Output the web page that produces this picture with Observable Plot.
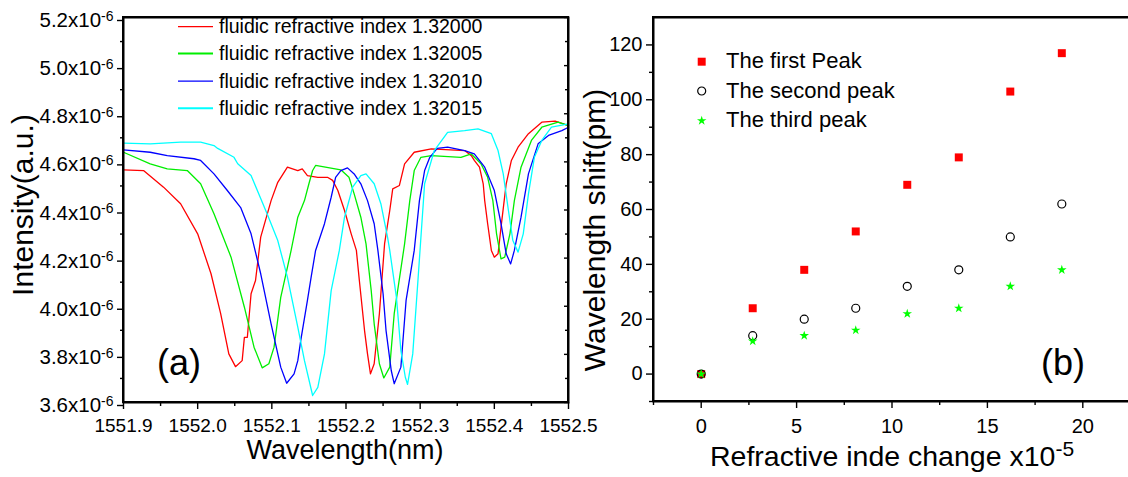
<!DOCTYPE html>
<html><head><meta charset="utf-8">
<script src="https://cdn.jsdelivr.net/npm/d3@7"></script>
<script src="https://cdn.jsdelivr.net/npm/@observablehq/plot@0.6"></script>
<style>
html,body{margin:0;padding:0;background:#fff;}
#wrap{position:relative;width:1128px;height:477px;overflow:hidden;background:#fff;}
#wrap > svg{position:absolute;top:0;}
</style></head><body><div id="wrap"></div>
<script>
// ---------- Panel (a): spectra (intensity in units of 1e-6 a.u.) ----------
const seriesNames = ["fluidic refractive index 1.32000","fluidic refractive index 1.32005","fluidic refractive index 1.32010","fluidic refractive index 1.32015"];
const seriesColors = ["#ff0000","#00ee00","#0000ff","#00ffff"];

const redWl = [1551.900,1551.927,1551.954,1551.977,1552.000,1552.018,1552.031,1552.042,1552.051,1552.060,1552.063,1552.067,1552.072,1552.078,1552.085,1552.099,1552.108,1552.121,1552.135,1552.141,1552.148,1552.162,1552.175,1552.182,1552.189,1552.198,1552.207,1552.214,1552.218,1552.225,1552.229,1552.233,1552.238,1552.245,1552.252,1552.259,1552.263,1552.272,1552.279,1552.292,1552.315,1552.360,1552.369,1552.373,1552.380,1552.385,1552.387,1552.391,1552.396,1552.400,1552.405,1552.409,1552.416,1552.423,1552.432,1552.446,1552.464,1552.482,1552.500];
const redI = [4.567,4.564,4.495,4.426,4.301,4.135,3.969,3.802,3.749,3.774,3.871,3.871,4.052,4.107,4.287,4.439,4.515,4.578,4.564,4.571,4.543,4.536,4.536,4.523,4.481,4.398,4.301,4.232,4.107,3.899,3.802,3.719,3.761,3.969,4.259,4.398,4.488,4.502,4.592,4.640,4.654,4.647,4.626,4.606,4.578,4.509,4.439,4.343,4.232,4.204,4.218,4.328,4.509,4.606,4.661,4.717,4.765,4.769,4.751];

const greenWl = [1551.900,1551.936,1551.959,1551.986,1552.004,1552.022,1552.045,1552.063,1552.076,1552.087,1552.096,1552.103,1552.112,1552.121,1552.126,1552.135,1552.144,1552.150,1552.155,1552.159,1552.193,1552.204,1552.211,1552.220,1552.227,1552.234,1552.238,1552.245,1552.251,1552.259,1552.265,1552.279,1552.286,1552.292,1552.301,1552.315,1552.355,1552.369,1552.382,1552.391,1552.398,1552.403,1552.409,1552.414,1552.421,1552.427,1552.436,1552.450,1552.464,1552.486,1552.500];
const greenI = [4.640,4.592,4.571,4.564,4.509,4.384,4.204,3.996,3.830,3.744,3.761,3.830,4.037,4.162,4.232,4.370,4.439,4.509,4.564,4.585,4.567,4.536,4.467,4.370,4.259,4.065,3.927,3.761,3.702,3.747,3.969,4.259,4.439,4.564,4.619,4.626,4.619,4.633,4.592,4.536,4.439,4.301,4.197,4.204,4.301,4.439,4.578,4.689,4.744,4.765,4.751];

const blueWl = [1551.900,1551.936,1551.959,1551.995,1552.004,1552.022,1552.040,1552.058,1552.072,1552.085,1552.099,1552.112,1552.120,1552.130,1552.135,1552.139,1552.148,1552.153,1552.159,1552.171,1552.180,1552.186,1552.193,1552.202,1552.211,1552.220,1552.229,1552.238,1552.243,1552.250,1552.254,1552.261,1552.265,1552.274,1552.281,1552.292,1552.299,1552.306,1552.313,1552.323,1552.337,1552.360,1552.373,1552.387,1552.400,1552.409,1552.416,1552.422,1552.427,1552.436,1552.446,1552.459,1552.473,1552.491,1552.500];
const blueI = [4.650,4.640,4.626,4.613,4.606,4.550,4.481,4.410,4.301,4.135,3.927,3.747,3.680,3.719,3.774,3.858,4.024,4.121,4.232,4.343,4.453,4.536,4.564,4.575,4.550,4.509,4.439,4.343,4.232,4.052,3.899,3.733,3.678,3.747,4.024,4.232,4.439,4.564,4.619,4.656,4.661,4.647,4.633,4.578,4.481,4.343,4.218,4.176,4.232,4.370,4.550,4.675,4.710,4.730,4.744];

const cyanWl = [1551.900,1551.936,1551.977,1552.004,1552.022,1552.027,1552.049,1552.054,1552.072,1552.085,1552.094,1552.108,1552.121,1552.135,1552.144,1552.155,1552.162,1552.171,1552.180,1552.191,1552.198,1552.209,1552.220,1552.227,1552.238,1552.247,1552.256,1552.259,1552.268,1552.274,1552.280,1552.283,1552.290,1552.297,1552.306,1552.319,1552.337,1552.360,1552.378,1552.396,1552.405,1552.412,1552.419,1552.425,1552.432,1552.439,1552.446,1552.454,1552.464,1552.477,1552.500];
const cyanI = [4.678,4.675,4.682,4.682,4.668,4.656,4.619,4.592,4.543,4.448,4.381,4.273,4.121,3.913,3.774,3.629,3.663,3.802,4.065,4.232,4.370,4.495,4.543,4.550,4.509,4.426,4.287,4.232,4.037,3.816,3.705,3.675,3.802,4.107,4.509,4.647,4.723,4.730,4.737,4.717,4.647,4.550,4.398,4.273,4.225,4.301,4.467,4.619,4.689,4.744,4.758];

const leftXDomain = [1551.9, 1552.5];
const leftYDomain = [3.6, 5.2];
const leftXTicks = [1551.9,1552.0,1552.1,1552.2,1552.3,1552.4,1552.5];
const leftXMinor = [1551.95,1552.05,1552.15,1552.25,1552.35,1552.45];
const leftYTicks = [3.6,3.8,4.0,4.2,4.4,4.6,4.8,5.0,5.2];
const leftYMinor = [3.7,3.9,4.1,4.3,4.5,4.7,4.9,5.1];

// ---------- Panel (b): wavelength shift ----------
const indexChange = [0,2.7,5.4,8.1,10.8,13.5,16.2,18.9];
const firstPeak  = [0,24,38,52,69,79,103,117];
const secondPeak = [0,14,20,24,32,38,50,62];
const thirdPeak  = [0,12,14,16,22,24,32,38];
const peakNames = ["The first Peak","The second peak","The third peak"];

const rightXDomain = [-2.5, 22.5];
const rightYDomain = [-10, 130];
const rightXTicks = [0,5,10,15,20];
const rightXMinor = [-2.5,2.5,7.5,12.5,17.5,22.5];
const rightYTicks = [0,20,40,60,80,100,120];
const rightYMinor = [-10,10,30,50,70,90,110];

const FONT = '"Liberation Sans", Arial, Helvetica, sans-serif';
const wrap = document.getElementById("wrap");

function toRows(name, xs, ys) { return xs.map((x, i) => ({name, wl: x, I: ys[i]})); }
const spectra = [
  ...toRows(seriesNames[0], redWl, redI),
  ...toRows(seriesNames[1], greenWl, greenI),
  ...toRows(seriesNames[2], blueWl, blueI),
  ...toRows(seriesNames[3], cyanWl, cyanI)
];

const blank = () => "";
const frameMark = () => Plot.frame({stroke: "#000000", strokeWidth: 2});

const left = Plot.plot({
  width: 580, height: 477,
  marginLeft: 123, marginRight: 12, marginTop: 17, marginBottom: 75,
  style: {fontFamily: FONT, color: "black", background: "transparent", overflow: "visible"},
  x: {domain: leftXDomain},
  y: {domain: leftYDomain},
  color: {domain: seriesNames, range: seriesColors},
  marks: [
    Plot.line(spectra, {x: "wl", y: "I", z: "name", stroke: "name", strokeWidth: 1.3}),
    Plot.axisX({ticks: leftXTicks, tickSize: 7, tickPadding: 9, tickFormat: d => d.toFixed(1), fontSize: 19, label: null, strokeWidth: 1.4}),
    Plot.axisX({ticks: leftXMinor, tickSize: 4, tickFormat: blank, label: null, strokeWidth: 1.4}),
    Plot.axisY({ticks: leftYTicks, tickSize: 6, tickPadding: 4, tickFormat: d => d.toFixed(1) + "x10", fontSize: 20.5, dy: 3, label: null, strokeWidth: 1.4}),
    Plot.axisY({ticks: leftYMinor, tickSize: 3, tickFormat: blank, label: null, strokeWidth: 1.4}),
    Plot.axisY({anchor: "right", ticks: leftYTicks, tickSize: 5, dx: -5, tickFormat: blank, label: null, strokeWidth: 1.4}),
    Plot.axisY({anchor: "right", ticks: leftYMinor, tickSize: 4, dx: -4, tickFormat: blank, label: null, strokeWidth: 1.4}),
    frameMark()
  ]
});
left.style.left = "0px";
wrap.appendChild(left);

// superscript exponent on the y tick labels
d3.select(left).selectAll('g[aria-label="y-axis tick label"] text').each(function () {
  const t = this.textContent;
  if (!t) return;
  const s = d3.select(this);
  s.text(t);
  s.append("tspan").attr("dy", "-0.45em").attr("font-size", "14px").text("-6");
});

const pts = indexChange.map((x, i) => ({x, first: firstPeak[i], second: secondPeak[i], third: thirdPeak[i]}));

const right = Plot.plot({
  width: 552, height: 477,
  marginLeft: 73, marginRight: 2, marginTop: 17, marginBottom: 76,
  style: {fontFamily: FONT, color: "black", background: "transparent", overflow: "visible"},
  x: {domain: rightXDomain},
  y: {domain: rightYDomain},
  marks: [
    Plot.dot(pts, {x: "x", y: "first", symbol: "square", fill: "#ff0000", r: 4.5}),
    Plot.dot(pts, {x: "x", y: "second", symbol: "circle", stroke: "black", fill: "none", r: 4, strokeWidth: 1.2}),
    Plot.dot(pts, {x: "x", y: "third", symbol: "star", fill: "#00ff00", r: 3}),
    Plot.axisX({ticks: rightXTicks, tickSize: 7, tickPadding: 10, fontSize: 20, label: null, strokeWidth: 1.4}),
    Plot.axisX({ticks: rightXMinor, tickSize: 4, tickFormat: blank, label: null, strokeWidth: 1.4}),
    Plot.axisY({ticks: rightYTicks, tickSize: 7, tickPadding: 4, fontSize: 20, label: null, strokeWidth: 1.4}),
    Plot.axisY({ticks: rightYMinor, tickSize: 4, tickFormat: blank, label: null, strokeWidth: 1.4}),
    frameMark()
  ]
});
right.style.left = "580px";
wrap.appendChild(right);

// ---------- overlay: frames, legends, panel labels, axis titles ----------
const ov = d3.select(wrap).append("svg")
  .attr("width", 1128).attr("height", 477)
  .style("left", "0px").style("font-family", FONT);

// frames redrawn on top from the plots' own scales
function drawFrame(plot, offsetX, xd, yd) {
  const sx = plot.scale("x"), sy = plot.scale("y");
  const x0 = sx.apply(xd[0]) + offsetX, x1 = sx.apply(xd[1]) + offsetX;
  const y0 = sy.apply(yd[1]), y1 = sy.apply(yd[0]);
  ov.append("path").attr("d", `M${x0},${y0}H${x1}V${y1}H${x0}Z`)
    .attr("fill", "none").attr("stroke", "#000000").attr("stroke-width", 2);
}
drawFrame(left, 0, leftXDomain, leftYDomain);
drawFrame(right, 580, rightXDomain, rightYDomain);

// legend (a)
const legA = ov.append("g");
const legAY = [26.7, 53.6, 81.2, 108.3];
const legAW = [1.2, 2, 1.2, 2];
seriesNames.forEach((n, i) => {
  legA.append("line").attr("x1", 178).attr("x2", 213).attr("y1", legAY[i]).attr("y2", legAY[i])
    .attr("stroke", seriesColors[i]).attr("stroke-width", legAW[i]);
  legA.append("text").attr("x", 219).attr("y", legAY[i] + 6.7).attr("font-size", 19.5).attr("fill", "black").text(n);
});

// legend (b)
const legB = ov.append("g");
const legBY = [61.7, 91, 120.7];
const sym = [d3.symbolSquare, d3.symbolCircle, d3.symbolStar];
const symSize = [Math.PI * 4.5 * 4.5, Math.PI * 16, Math.PI * 9];
peakNames.forEach((n, i) => {
  const p = legB.append("path").attr("d", d3.symbol(sym[i], symSize[i])())
    .attr("transform", `translate(701.7,${legBY[i]})`);
  if (i === 0) p.attr("fill", "#ff0000");
  if (i === 1) p.attr("fill", "none").attr("stroke", "black").attr("stroke-width", 1.2);
  if (i === 2) p.attr("fill", "#00ff00");
  legB.append("text").attr("x", 726).attr("y", legBY[i] + 6.7).attr("font-size", 22).attr("fill", "black").text(n);
});

// panel labels
ov.append("text").attr("x", 157).attr("y", 375).attr("font-size", 36).text("(a)");
ov.append("text").attr("x", 1041).attr("y", 375).attr("font-size", 36).text("(b)");

// axis titles
ov.append("text").attr("transform", "translate(33,205) rotate(-90)").attr("text-anchor", "middle")
  .attr("font-size", 30).text("Intensity(a.u.)");
ov.append("text").attr("x", 345).attr("y", 459).attr("text-anchor", "middle")
  .attr("font-size", 27).text("Wavelength(nm)");
ov.append("text").attr("transform", "translate(605,230) rotate(-90)").attr("text-anchor", "middle")
  .attr("font-size", 30).text("Wavelength shift(pm)");
const rt = ov.append("text").attr("x", 710).attr("y", 466).attr("font-size", 28.5);
rt.append("tspan").text("Refractive inde change x10");
rt.append("tspan").attr("dy", -10).attr("font-size", 21).text("-5");
</script>
</body></html>
